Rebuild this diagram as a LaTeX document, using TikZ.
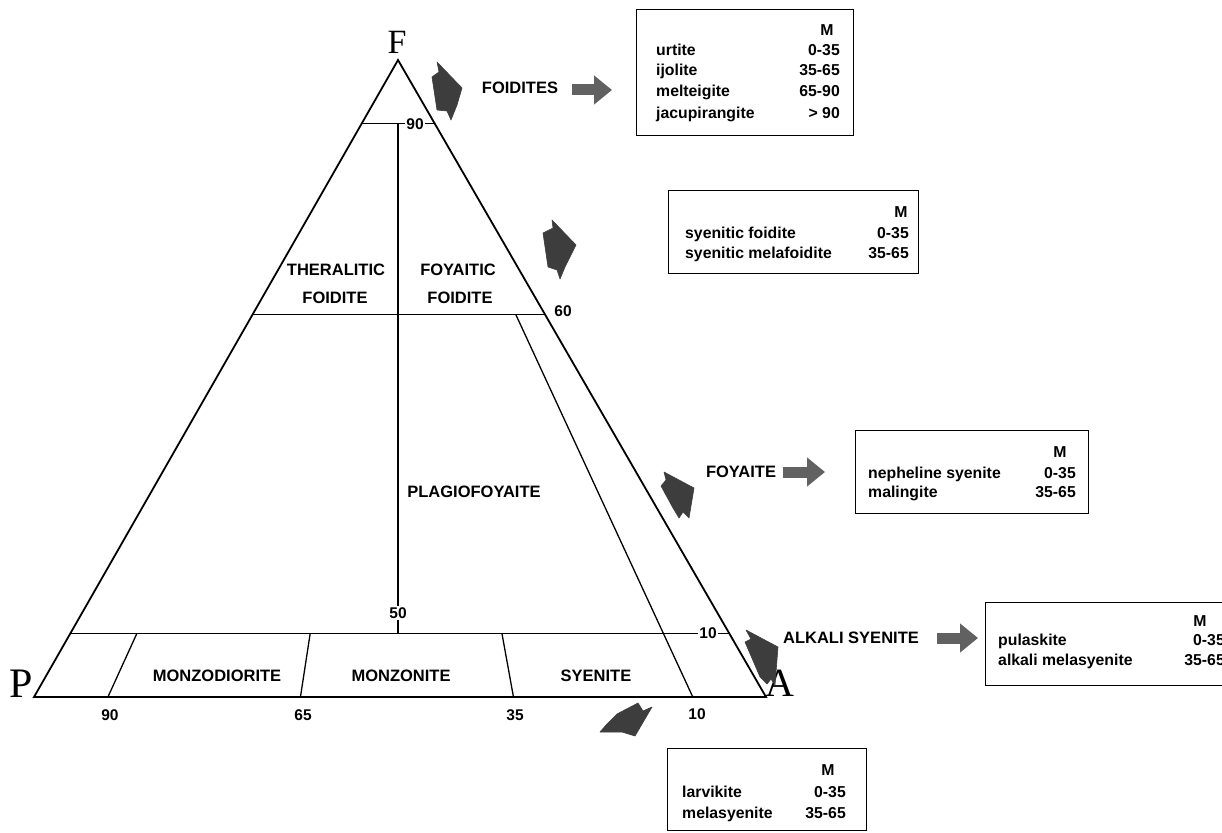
\documentclass[tikz,border=0pt]{standalone}
\usepackage{fontspec}
\setmainfont{Liberation Sans}
\newfontfamily\vtxfont{Liberation Serif}
\usetikzlibrary{calc,arrows.meta}
\begin{document}
\begin{tikzpicture}[x=1pt,y=-1pt,
  outer/.style={line width=1.8pt, line join=miter},
  inner/.style={line width=1.3pt},
  lab/.style={font=\fontsize{16.5}{19}\bfseries\selectfont, inner sep=0pt},
  num/.style={font=\fontsize{15.5}{18}\bfseries\selectfont, inner sep=1.5pt},
  bt/.style={font=\fontsize{15.8}{18}\bfseries\selectfont, inner sep=0pt},
  vtx/.style={font=\vtxfont\fontsize{42}{42}\selectfont, inner sep=0pt},
  frame/.style={draw, line width=1.4pt, inner sep=0pt, anchor=north west},
  fatarr/.style={line width=11pt, black!62, -{Triangle[length=18pt,width=28pt]}},
  dark/.style={fill=black!76, draw=black!76, line width=0.6pt, line join=round}]
\clip (0,0) rectangle (1222,832);
\fill[white] (0,0) rectangle (1222,832);

% ---------- triangle ----------
\coordinate (P) at (34,697);
\coordinate (A) at (766,697);
\coordinate (F) at (398,60);
\draw[outer] (P) -- (A) -- (F) -- cycle;

\coordinate (L90a) at ($(P)!0.9!(F)$);
\coordinate (L90b) at ($(A)!0.9!(F)$);
\coordinate (L60a) at ($(P)!0.6!(F)$);
\coordinate (L60b) at ($(A)!0.6!(F)$);
\coordinate (L10a) at ($(P)!0.1!(F)$);
\coordinate (L10b) at ($(A)!0.1!(F)$);
\draw[inner] (L90a) -- (L90b);
\draw[inner] (L60a) -- (L60b);
\draw[inner] (L10a) -- (L10b);
\draw[inner] (F |- L90a) -- (F |- L10a);

\coordinate (B90) at ($(P)!0.101!(A)$);
\coordinate (B65) at ($(P)!0.364!(A)$);
\coordinate (B35) at ($(P)!0.655!(A)$);
\coordinate (B10) at ($(P)!0.900!(A)$);
\draw[inner] (B90) -- ($(B90)!0.1!(F)$);
\draw[inner] (B65) -- ($(B65)!0.1!(F)$);
\draw[inner] (B35) -- ($(B35)!0.1!(F)$);
\draw[inner] (B10) -- ($(B10)!0.6!(F)$);

% numbers
\node[num, fill=white] (n90) at (415,124) {90};
\node[num, fill=white] (n50) at (398,613) {50};
\node[num, fill=white] (n10l) at (708,633) {10};
\node[num] (n60) at (563,311) {60};
\node[num] (b90) at (110,715) {90};
\node[num] (b65) at (303,715) {65};
\node[num] (b35) at (515,715) {35};
\node[num] (b10) at (697,714) {10};

% vertices
\node[vtx, font=\vtxfont\fontsize{34}{34}\selectfont] (vF) at (397,42) {F};
\node[vtx] (vP) at (21,684) {P};
\node[vtx, font=\vtxfont\fontsize{40}{40}\selectfont] (vA) at (780,683) {A};

% field names
\node[lab] (ther1) at (336,270) {THERALITIC};
\node[lab] (ther2) at (335,298) {FOIDITE};
\node[lab] (foy1) at (458,270) {FOYAITIC};
\node[lab] (foy2) at (460,298) {FOIDITE};
\node[lab] (plag) at (474,492) {PLAGIOFOYAITE};
\node[lab] (mzd) at (217,676) {MONZODIORITE};
\node[lab] (mzn) at (401,676) {MONZONITE};
\node[lab] (sye) at (596,676) {SYENITE};

\node[lab] (foidites) at (520,88) {FOIDITES};
\node[lab] (foyaite) at (741,472) {FOYAITE};
\node[lab] (alkali) at (851,638) {ALKALI SYENITE};

% ---------- boxes ----------
\node[frame, minimum width=217pt, minimum height=126pt] (box1) at (636,9) {};
\node[bt, anchor=base] at (827,35.5) {M};
\node[bt, anchor=base west] at (656,55.5) {urtite};
\node[bt, anchor=base west] at (656,75.5) {ijolite};
\node[bt, anchor=base west] at (656,96.5) {melteigite};
\node[bt, anchor=base west] at (656,118) {jacupirangite};
\node[bt, anchor=base east] at (840,55.5) {0-35};
\node[bt, anchor=base east] at (840,75.5) {35-65};
\node[bt, anchor=base east] at (840,96.5) {65-90};
\node[bt, anchor=base east] at (840,118) {> 90};

\node[frame, minimum width=250pt, minimum height=83pt] (box2) at (668,190) {};
\node[bt, anchor=base] at (901,217) {M};
\node[bt, anchor=base west] at (685,238) {syenitic foidite};
\node[bt, anchor=base west] at (685,258) {syenitic melafoidite};
\node[bt, anchor=base east] at (909,238) {0-35};
\node[bt, anchor=base east] at (909,258) {35-65};

\node[frame, minimum width=233pt, minimum height=83pt] (box3) at (855,430) {};
\node[bt, anchor=base] at (1060,457) {M};
\node[bt, anchor=base west] at (868,478) {nepheline syenite};
\node[bt, anchor=base west] at (868,497) {malingite};
\node[bt, anchor=base east] at (1076,478) {0-35};
\node[bt, anchor=base east] at (1076,497) {35-65};

\node[frame, minimum width=260pt, minimum height=83pt] (box4) at (985,602) {};
\node[bt, anchor=base] at (1200,626) {M};
\node[bt, anchor=base west] at (998,645) {pulaskite};
\node[bt, anchor=base west] at (998,665) {alkali melasyenite};
\node[bt, anchor=base east] at (1225,645) {0-35};
\node[bt, anchor=base east] at (1225,665) {35-65};

\node[frame, minimum width=199pt, minimum height=82pt] (box5) at (667,748) {};
\node[bt, anchor=base] at (828,775) {M};
\node[bt, anchor=base west] at (682,797) {larvikite};
\node[bt, anchor=base west] at (682,818) {melasyenite};
\node[bt, anchor=base east] at (846,797) {0-35};
\node[bt, anchor=base east] at (846,818) {35-65};

% ---------- grey block arrows (name -> box) ----------
\coordinate (a1s) at ([xshift=14pt]foidites.east);
\coordinate (a1e) at ([xshift=-24pt]box1.west);
\draw[fatarr] ([yshift=-2pt]a1s) -- ([yshift=-2pt]a1e |- a1s);
\coordinate (a2s) at ([xshift=7pt]foyaite.east);
\coordinate (a2e) at ([xshift=-30pt]box3.west);
\draw[fatarr] (a2s) -- (a2e |- a2s);
\coordinate (a3s) at ([xshift=18pt]alkali.east);
\coordinate (a3e) at ([xshift=-7pt]box4.west);
\draw[fatarr] (a3s) -- (a3e |- a3s);

% ---------- dark pointer shapes ----------
\fill[dark] (437,62) -- (462,88) -- (457,105) -- (451,120) -- (447,111) -- (437,110) -- (432,77) -- (439,72) -- cycle;
\fill[dark] (552,220) -- (576,245) -- (565,267) -- (560,279) -- (557,270) -- (548,267) -- (543,233) -- (553,228) -- cycle;
\fill[dark] (664,472) -- (694,488) -- (689,518) -- (683,512) -- (679,518) -- (673,508) -- (661,486) -- (666,480) -- cycle;
\fill[dark] (746,630) -- (778,647) -- (775,685) -- (771,679) -- (767,684) -- (760,677) -- (745,642) -- (751,639) -- cycle;
\fill[dark] (638,703) -- (643,711) -- (652,707) -- (635,736) -- (622,732) -- (600,732) -- (607,724) -- (617,714) -- cycle;
\end{tikzpicture}
\end{document}
